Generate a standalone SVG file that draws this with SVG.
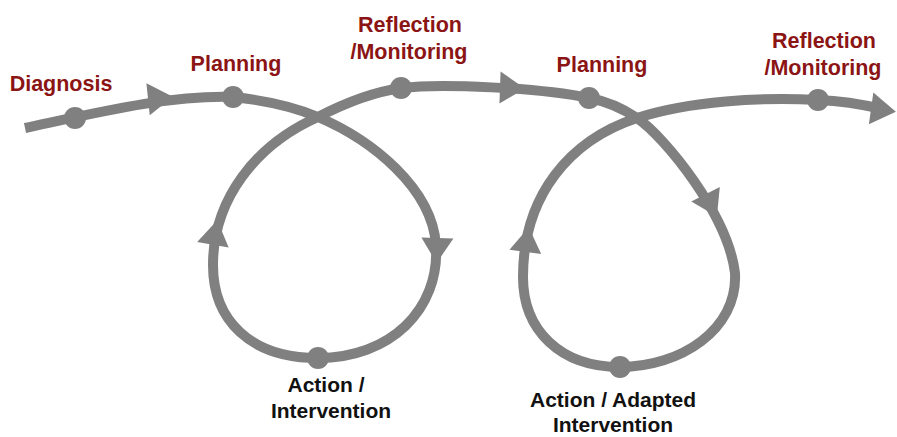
<svg xmlns="http://www.w3.org/2000/svg" xmlns:xlink="http://www.w3.org/1999/xlink" width="897" height="437" viewBox="0 0 897 437">
<style>
.flow{fill:none;stroke:#808080;stroke-width:10;stroke-linecap:butt;stroke-linejoin:round}
.dot{fill:#808080}
.ah{fill:#808080}
.red{font-family:"Liberation Sans",Arial,sans-serif;font-weight:bold;font-size:21.5px;fill:#8b1414;text-anchor:middle}
.blk{font-family:"Liberation Sans",Arial,sans-serif;font-weight:bold;font-size:21px;fill:#111;text-anchor:middle}
</style>
<defs>
<polygon id="arrowhead" points="13,0 -12,-16 -12,16"/>
</defs>
<rect width="897" height="437" fill="#fff"/>
<g id="connectors">
<path class="flow" d="M25,128 C100,112 170,95 233,97 C262,100 292,106 318,117 C372,140 432,188 436,245 C440,310 390,358 318,358 C250,358 213,320 213,265 C213,200 255,145 318,117 C345,103 372,92 402,88 C440,83 540,88 589,98 C605,101 622,108 637,118 C665,137 728,215 735,273 C738,330 680,367 620,367 C560,367 523,330 523,277 C523,195 570,140 637,118 C690,101 760,97 818,100 C845,101 865,105 882,109"/>
<use href="#arrowhead" class="ah" transform="translate(160,98) rotate(-6)"/>
<use href="#arrowhead" class="ah" transform="translate(437,250) rotate(92)"/>
<use href="#arrowhead" class="ah" transform="translate(215,233) rotate(-80)"/>
<use href="#arrowhead" class="ah" transform="translate(512,88) rotate(2)"/>
<use href="#arrowhead" class="ah" transform="translate(711,205) rotate(63)"/>
<use href="#arrowhead" class="ah" transform="translate(527,240) rotate(-82)"/>
<use href="#arrowhead" class="ah" transform="translate(883,110) rotate(8)"/>
</g>
<g id="diagnosis"><circle class="dot" cx="75" cy="118" r="11"/><text class="red" x="61" y="91">Diagnosis</text></g>
<g id="planning1"><circle class="dot" cx="233" cy="97" r="11"/><text class="red" x="236" y="71">Planning</text></g>
<g id="action1"><circle class="dot" cx="318" cy="358" r="11"/><text class="blk" x="326" y="392">Action /</text><text class="blk" x="331" y="418">Intervention</text></g>
<g id="reflection1"><circle class="dot" cx="401" cy="88" r="11"/><text class="red" x="410" y="32">Reflection</text><text class="red" x="409" y="59">/Monitoring</text></g>
<g id="planning2"><circle class="dot" cx="589" cy="98" r="11"/><text class="red" x="602" y="72">Planning</text></g>
<g id="action2"><circle class="dot" cx="620" cy="367" r="11"/><text class="blk" x="613" y="407">Action / Adapted</text><text class="blk" x="613" y="432">Intervention</text></g>
<g id="reflection2"><circle class="dot" cx="818" cy="100" r="11"/><text class="red" x="824" y="48">Reflection</text><text class="red" x="823" y="75">/Monitoring</text></g>
</svg>
